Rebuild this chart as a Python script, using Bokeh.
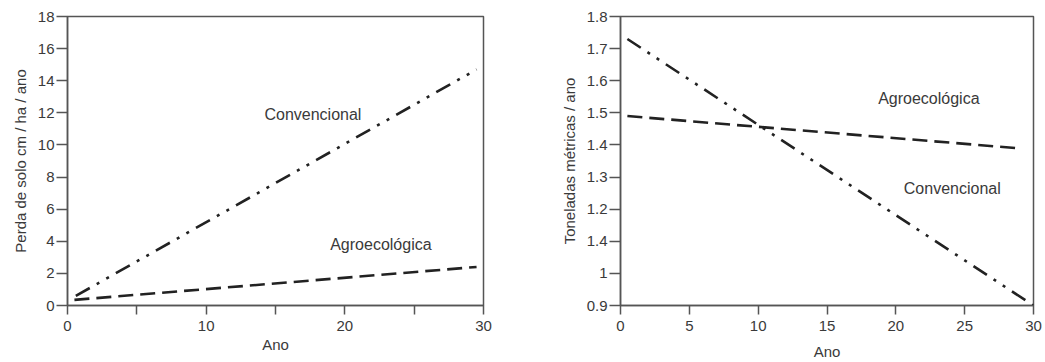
from bokeh.plotting import figure
from bokeh.layouts import row
from bokeh.models import FixedTicker, Range1d
from bokeh.core.properties import value
from bokeh.embed import file_html
from bokeh.resources import INLINE

# Left chart: soil loss
left_x_conv = [0.6, 29.5]
left_y_conv = [0.6, 14.7]
left_x_agro = [0.5, 29.5]
left_y_agro = [0.35, 2.4]
left_xticks = [0, 5, 10, 15, 20, 25, 30]
left_xlabels = ["0", "", "10", "", "20", "", "30"]
left_yticks = [0, 2, 4, 6, 8, 10, 12, 14, 16, 18]
left_ylabels = ["0", "2", "4", "6", "8", "10", "12", "14", "16", "18"]

# Right chart: tonnes per year
right_x_conv = [0.5, 30]
right_y_conv = [1.73, 0.9]
right_x_agro = [0.5, 28.8]
right_y_agro = [1.49, 1.39]
right_xticks = [0, 5, 10, 15, 20, 25, 30]
right_xlabels = ["0", "5", "10", "15", "20", "25", "30"]
right_yticks = [0.9, 1.0, 1.1, 1.2, 1.3, 1.4, 1.5, 1.6, 1.7, 1.8]
right_ylabels = ["0.9", "1", "1.4", "1.2", "1.3", "1.4", "1.5", "1.6", "1.7", "1.8"]

series_names = ["Convencional", "Agroecológica"]
left_label_x = [17.7, 22.6]
left_label_y = [11.9, 3.77]
right_label_x = [24.1, 22.4]
right_label_y = [1.263, 1.545]

FONT = "Liberation Sans"
TXT = "#3a3a3a"
AXC = "#555555"
LINE = "#222222"
CONV_DASH = "16 8 3 8 3 8"
AGRO_DASH = "15 7"


def style(p, xticks, xlabels, yticks, ylabels, ylabel, xlab_standoff):
    p.xaxis.ticker = FixedTicker(ticks=xticks)
    p.yaxis.ticker = FixedTicker(ticks=yticks)
    p.xaxis.major_label_overrides = {t: l for t, l in zip(xticks, xlabels)}
    p.yaxis.major_label_overrides = {t: l for t, l in zip(yticks, ylabels)}
    p.xaxis.axis_label = "Ano"
    p.yaxis.axis_label = ylabel
    for ax in (p.xaxis, p.yaxis):
        ax.axis_label_text_font = FONT
        ax.axis_label_text_font_style = "normal"
        ax.axis_label_text_font_size = "15px"
        ax.axis_label_text_color = TXT
        ax.major_label_text_font = FONT
        ax.major_label_text_font_size = "15px"
        ax.major_label_text_color = TXT
        ax.axis_line_color = AXC
        ax.axis_line_width = 1.5
        ax.major_tick_line_color = AXC
        ax.major_tick_line_width = 1.5
        ax.major_tick_in = 0
        ax.minor_tick_line_color = None
    p.xaxis.major_tick_out = 9
    p.yaxis.major_tick_out = 11
    p.xaxis.major_label_standoff = 6
    p.yaxis.major_label_standoff = 2
    p.xaxis.axis_label_standoff = xlab_standoff
    p.yaxis.axis_label_standoff = 6
    p.xgrid.grid_line_color = None
    p.ygrid.grid_line_color = None
    p.outline_line_color = AXC
    p.outline_line_width = 1.5
    p.outline_line_alpha = 1.0


p1 = figure(width=528, height=362, output_backend="svg", toolbar_location=None,
            x_range=Range1d(0, 30), y_range=Range1d(0, 18),
            min_border_left=67, min_border_right=45, min_border_top=16, min_border_bottom=55)
style(p1, left_xticks, left_xlabels, left_yticks, left_ylabels, "Perda de solo cm / ha / ano", 2)
p1.line(left_x_conv, left_y_conv, line_color=LINE, line_width=2.6, line_dash=CONV_DASH)
p1.line(left_x_agro, left_y_agro, line_color=LINE, line_width=2.6, line_dash=AGRO_DASH)
p1.text(left_label_x, left_label_y, text=series_names, text_font=value(FONT),
        text_font_size="16px", text_color=TXT, text_align="center", text_baseline="middle")

p2 = figure(width=517, height=362, output_backend="svg", toolbar_location=None,
            x_range=Range1d(0, 30), y_range=Range1d(0.9, 1.8),
            min_border_left=92, min_border_right=12, min_border_top=16, min_border_bottom=56)
style(p2, right_xticks, right_xlabels, right_yticks, right_ylabels, "Toneladas métricas / ano", 9)
p2.line(right_x_conv, right_y_conv, line_color=LINE, line_width=2.6, line_dash=CONV_DASH)
p2.line(right_x_agro, right_y_agro, line_color=LINE, line_width=2.6, line_dash=AGRO_DASH)
p2.text(right_label_x, right_label_y, text=series_names, text_font=value(FONT),
        text_font_size="16px", text_color=TXT, text_align="center", text_baseline="middle")

layout = row(p1, p2)
open("out.html", "w").write(file_html(layout, INLINE))
